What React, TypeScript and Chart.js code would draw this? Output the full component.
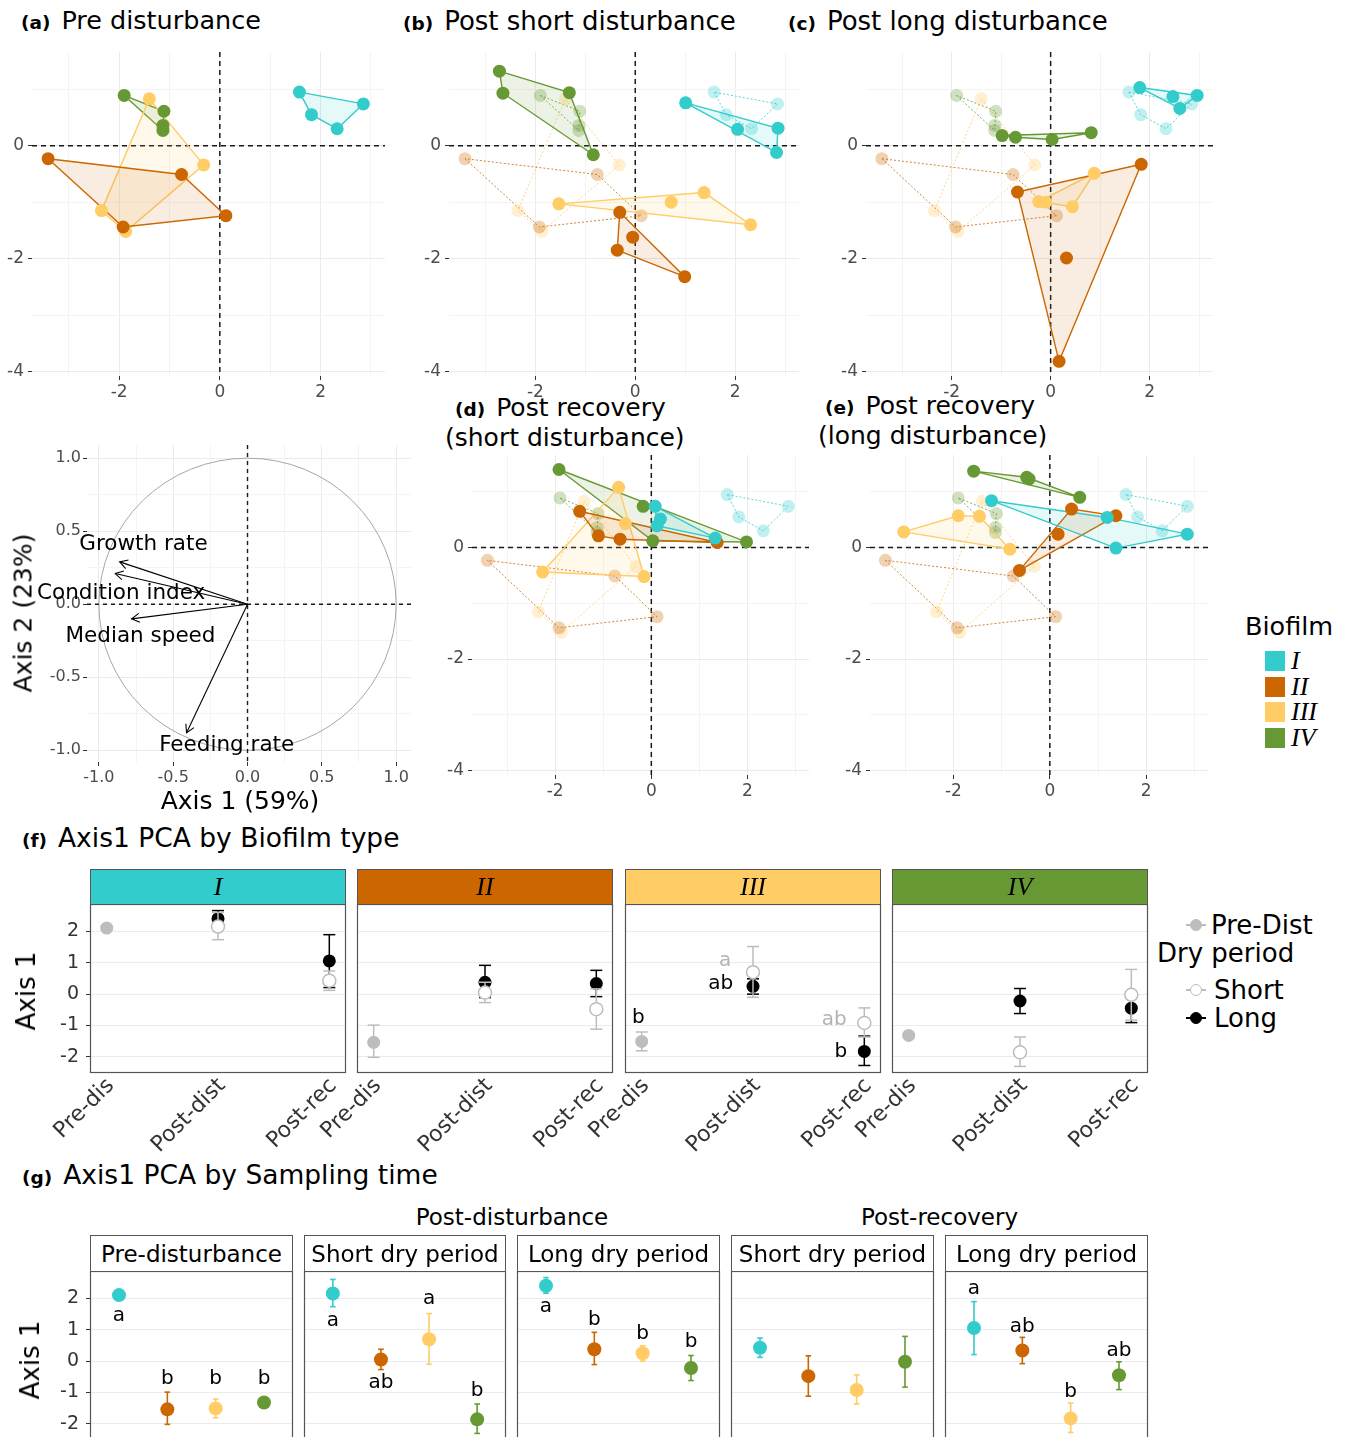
import React, { useEffect, useRef } from 'react';
import { Chart, registerables } from 'chart.js';

Chart.register(...registerables);

const FONT = "'DejaVu Sans', Verdana, sans-serif";
const SERIF = "'Liberation Serif', 'DejaVu Serif', serif";
Chart.defaults.font.family = FONT;

// ---------------- data ----------------
type Pt = [number, number];

const BIOFILMS = ['I', 'II', 'III', 'IV'];
const BIOFILM_COLORS = ['#33CCCC', '#CC6600', '#FFCC66', '#669933'];

// PCA scores (Axis 1, Axis 2) — (a) pre disturbance
const PRE_I: Pt[] = [[1.58, 0.95], [2.85, 0.74], [2.33, 0.30], [1.82, 0.55]];
const PRE_II: Pt[] = [[-3.41, -0.23], [-0.76, -0.51], [0.12, -1.24], [-1.92, -1.44]];
const PRE_III: Pt[] = [[-1.40, 0.83], [-0.32, -0.34], [-2.35, -1.15], [-1.87, -1.52]];
const PRE_IV: Pt[] = [[-1.90, 0.89], [-1.11, 0.61], [-1.13, 0.36], [-1.13, 0.27]];
// (b) post short disturbance
const PSD_I: Pt[] = [[1.01, 0.76], [2.05, 0.29], [2.86, 0.31], [2.83, -0.12]];
const PSD_II: Pt[] = [[-0.31, -1.18], [-0.05, -1.62], [-0.36, -1.85], [0.99, -2.32]];
const PSD_III: Pt[] = [[-1.53, -1.03], [0.72, -1.00], [1.38, -0.83], [2.31, -1.40]];
const PSD_IV: Pt[] = [[-2.72, 1.32], [-2.65, 0.93], [-1.32, 0.94], [-0.84, -0.16]];
// (c) post long disturbance
const PLD_I: Pt[] = [[1.80, 1.03], [2.47, 0.87], [2.96, 0.89], [2.61, 0.66]];
const PLD_II: Pt[] = [[-0.67, -0.82], [1.83, -0.33], [0.32, -1.99], [0.17, -3.82]];
const PLD_III: Pt[] = [[0.88, -0.49], [-0.24, -0.99], [-0.10, -1.00], [0.44, -1.08]];
const PLD_IV: Pt[] = [[-0.98, 0.18], [-0.71, 0.15], [0.03, 0.11], [0.82, 0.23]];
// (d) post recovery (short disturbance)
const PRS_I: Pt[] = [[0.08, 0.74], [0.19, 0.51], [0.12, 0.39], [1.33, 0.17]];
const PRS_II: Pt[] = [[-1.49, 0.65], [-1.10, 0.21], [-0.65, 0.15], [1.37, 0.09]];
const PRS_III: Pt[] = [[-0.68, 1.08], [-0.54, 0.43], [-2.26, -0.44], [-0.15, -0.52]];
const PRS_IV: Pt[] = [[-1.92, 1.40], [-0.17, 0.74], [0.03, 0.12], [1.98, 0.10]];
// (e) post recovery (long disturbance)
const PRL_I: Pt[] = [[-1.21, 0.84], [1.19, 0.54], [2.85, 0.24], [1.37, -0.01]];
const PRL_II: Pt[] = [[0.45, 0.69], [1.37, 0.57], [0.17, 0.24], [-0.63, -0.41]];
const PRL_III: Pt[] = [[-3.03, 0.28], [-1.90, 0.57], [-1.46, 0.56], [-0.83, -0.03]];
const PRL_IV: Pt[] = [[-1.58, 1.37], [-0.48, 1.26], [-0.43, 1.23], [0.62, 0.90]];

const SCATTER_X_RANGE = [-3.73, 3.28];
const SCATTER_Y_RANGE = [-4.08, 1.66];
const SCATTER_X_TICKS = [-3, -2, -1, 0, 1, 2, 3];
const SCATTER_Y_TICKS = [-4, -3, -2, -1, 0, 1];
const SCATTER_LABELED = [-4, -2, 0, 2];

// correlation circle
const LOADING_NAMES = ['Growth rate', 'Condition index', 'Median speed', 'Feeding rate'];
const LOADING_X = [-0.86, -0.89, -0.78, -0.41];
const LOADING_Y = [0.29, 0.21, -0.10, -0.88];
const LOADING_LABEL_X = [-0.70, -0.85, -0.72, -0.14];
const LOADING_LABEL_Y = [0.41, 0.075, -0.22, -0.965];
const CIRCLE_X_RANGE = [-1.08, 1.1];
const CIRCLE_Y_RANGE = [-1.08, 1.09];
const CIRCLE_TICKS = [-1, -0.75, -0.5, -0.25, 0, 0.25, 0.5, 0.75, 1];
const CIRCLE_LABELED = [-1, -0.5, 0, 0.5, 1];

// Axis 1 mean ± error per biofilm (I, II, III, IV)
const PRE_MEAN = [2.11, -1.54, -1.51, -1.32];
const PRE_LO = [2.04, -2.02, -1.81, -1.37];
const PRE_HI = [2.18, -0.99, -1.21, -1.27];
const PD_SHORT_MEAN = [2.16, 0.05, 0.70, -1.86];
const PD_SHORT_LO = [1.74, -0.27, -0.10, -2.31];
const PD_SHORT_HI = [2.61, 0.38, 1.52, -1.37];
const PD_LONG_MEAN = [2.41, 0.38, 0.25, -0.22];
const PD_LONG_LO = [2.17, -0.11, 0.00, -0.62];
const PD_LONG_HI = [2.67, 0.92, 0.49, 0.18];
const PR_SHORT_MEAN = [0.43, -0.48, -0.92, -0.02];
const PR_SHORT_LO = [0.12, -1.12, -1.37, -0.83];
const PR_SHORT_HI = [0.74, 0.17, -0.44, 0.79];
const PR_LONG_MEAN = [1.06, 0.34, -1.83, -0.45];
const PR_LONG_LO = [0.21, -0.08, -2.28, -0.91];
const PR_LONG_HI = [1.90, 0.76, -1.34, -0.02];

const PCA1_RANGE = [-2.52, 2.88];
const PCA1_TICKS = [-2, -1, 0, 1, 2];

// (f)
const F_TIMES = ['Pre-dis', 'Post-dist', 'Post-rec'];
const F_X_RANGE = [0.85, 3.15];
const F_LETTERS = ['b', 'a', 'ab', 'ab', 'b'];
const F_LETTER_X = [0.97, 1.75, 1.71, 2.73, 2.79];
const F_LETTER_Y = [-0.76, 1.08, 0.33, -0.82, -1.84];
const F_LETTER_GROUP = ['pre', 'short', 'long', 'short', 'long'];
const F_LETTER_FACET = 2;

// (g)
const G_STRIPS = ['Pre-disturbance', 'Short dry period', 'Long dry period', 'Short dry period', 'Long dry period'];
const G_X_RANGE = [0.4, 4.6];
const PRE_LETTERS = ['a', 'b', 'b', 'b'];
const PRE_LETTER_Y = [1.44, -0.56, -0.56, -0.56];
const PD_SHORT_LETTERS = ['a', 'ab', 'a', 'b'];
const PD_SHORT_LETTER_Y = [1.30, -0.70, 1.98, -0.94];
const PD_LONG_LETTERS = ['a', 'b', 'b', 'b'];
const PD_LONG_LETTER_Y = [1.73, 1.33, 0.88, 0.61];
const PR_SHORT_LETTERS = ['', '', '', ''];
const PR_SHORT_LETTER_Y = [0, 0, 0, 0];
const PR_LONG_LETTERS = ['a', 'ab', 'b', 'ab'];
const PR_LONG_LETTER_Y = [2.30, 1.09, -0.99, 0.32];

// ---------------- layout ----------------
type Rect = { l: number; t: number; r: number; b: number };
type Margins = { l: number; t: number; r: number; b: number };

const PRE_GROUPS = [PRE_I, PRE_II, PRE_III, PRE_IV];
const SCATTER_PANELS = [
  { groups: PRE_GROUPS, ghost: false, rect: { l: 32, t: 52, r: 385, b: 376 } },
  { groups: [PSD_I, PSD_II, PSD_III, PSD_IV], ghost: true, rect: { l: 449, t: 52, r: 799, b: 376 } },
  { groups: [PLD_I, PLD_II, PLD_III, PLD_IV], ghost: true, rect: { l: 866, t: 52, r: 1213, b: 376 } },
  { groups: [PRS_I, PRS_II, PRS_III, PRS_IV], ghost: true, rect: { l: 472, t: 455, r: 809, b: 775 } },
  { groups: [PRL_I, PRL_II, PRL_III, PRL_IV], ghost: true, rect: { l: 870, t: 455, r: 1208, b: 775 } },
];
const CIRCLE_RECT: Rect = { l: 87, t: 445, r: 411, b: 762 };
const F_FACETS: Rect[] = [
  { l: 90, t: 904, r: 346, b: 1073 },
  { l: 357, t: 904, r: 613, b: 1073 },
  { l: 625, t: 904, r: 881, b: 1073 },
  { l: 892, t: 904, r: 1148, b: 1073 },
];
const G_FACETS: Rect[] = [
  { l: 90, t: 1271, r: 293, b: 1440 },
  { l: 304, t: 1271, r: 506, b: 1440 },
  { l: 517, t: 1271, r: 720, b: 1440 },
  { l: 731, t: 1271, r: 934, b: 1440 },
  { l: 945, t: 1271, r: 1148, b: 1440 },
];

// ---------------- helpers ----------------
function rgba(hex: string, a: number) {
  const n = parseInt(hex.slice(1), 16);
  return `rgba(${(n >> 16) & 255},${(n >> 8) & 255},${n & 255},${a})`;
}

function convexHull(points: Pt[]): Pt[] {
  const p = points.slice().sort((a, b) => a[0] - b[0] || a[1] - b[1]);
  if (p.length < 3) return p;
  const cross = (o: Pt, a: Pt, b: Pt) => (a[0] - o[0]) * (b[1] - o[1]) - (a[1] - o[1]) * (b[0] - o[0]);
  const lower: Pt[] = [];
  for (const q of p) {
    while (lower.length >= 2 && cross(lower[lower.length - 2], lower[lower.length - 1], q) <= 0) lower.pop();
    lower.push(q);
  }
  const upper: Pt[] = [];
  for (let i = p.length - 1; i >= 0; i--) {
    const q = p[i];
    while (upper.length >= 2 && cross(upper[upper.length - 2], upper[upper.length - 1], q) <= 0) upper.pop();
    upper.push(q);
  }
  upper.pop();
  lower.pop();
  return lower.concat(upper);
}

interface AxisOpt {
  min: number; max: number; ticks: number[]; size: number;
  label?: (v: number) => string;
  gridColor?: (v: number) => string;
  tickColor?: (v: number) => string;
  fontSize?: number; color?: string; rotation?: number; padding?: number; tickLength?: number; labelOffset?: number;
}

function axis(o: AxisOpt, horizontal: boolean) {
  return {
    type: 'linear',
    min: o.min,
    max: o.max,
    display: true,
    afterBuildTicks: (s: any) => { s.ticks = o.ticks.map((v) => ({ value: v })); },
    afterFit: (s: any) => {
      if (horizontal) s.height = o.size; else s.width = o.size;
      s.paddingLeft = 0; s.paddingRight = 0; s.paddingTop = 0; s.paddingBottom = 0;
    },
    border: { display: false },
    grid: {
      drawOnChartArea: true,
      color: (c: any) => (o.gridColor && c.tick ? o.gridColor(c.tick.value) : 'transparent'),
      lineWidth: 1,
      drawTicks: !!o.tickColor,
      tickLength: o.tickLength ?? 4,
      tickWidth: 1,
      tickColor: (c: any) => (o.tickColor && c.tick ? o.tickColor(c.tick.value) : 'transparent'),
    },
    ticks: {
      display: !!o.label,
      autoSkip: false,
      maxRotation: o.rotation ?? 0,
      minRotation: o.rotation ?? 0,
      padding: o.padding ?? 3,
      labelOffset: o.labelOffset ?? 0,
      color: o.color ?? '#4D4D4D',
      font: { family: FONT, size: o.fontSize ?? 16 },
      callback: (v: any) => (o.label ? o.label(Number(v)) : ''),
    },
  };
}

function makeConfig(m: Margins, xa: AxisOpt, ya: AxisOpt, datasets: any[], plugins: any[] = []) {
  return {
    type: 'scatter',
    data: { datasets },
    options: {
      responsive: false,
      animation: false,
      events: [],
      devicePixelRatio: 1,
      layout: { autoPadding: false, padding: { left: m.l - ya.size, top: m.t, right: m.r, bottom: m.b - xa.size } },
      plugins: { legend: { display: false }, tooltip: { enabled: false }, title: { display: false } },
      scales: { x: axis(xa, true), y: axis(ya, false) },
      elements: { line: { tension: 0 } },
    },
    plugins,
  };
}

function ChartBox({ rect, m, build }: { rect: Rect; m: Margins; build: () => any }) {
  const ref = useRef<HTMLCanvasElement>(null);
  const w = Math.round(rect.r - rect.l + m.l + m.r);
  const h = Math.round(rect.b - rect.t + m.t + m.b);
  useEffect(() => {
    const chart = new Chart(ref.current as HTMLCanvasElement, build());
    return () => chart.destroy();
  }, []);
  return (
    <canvas
      ref={ref}
      width={w}
      height={h}
      style={{ position: 'absolute', left: rect.l - m.l, top: rect.t - m.t, width: w, height: h }}
    />
  );
}

const zeroLinesPlugin = (lw: number, dash: number[]) => ({
  id: 'zeroLines',
  beforeDatasetsDraw(chart: any) {
    const { ctx, chartArea: a, scales } = chart;
    const px = scales.x.getPixelForValue(0);
    const py = scales.y.getPixelForValue(0);
    ctx.save();
    ctx.strokeStyle = '#1a1a1a';
    ctx.lineWidth = lw;
    ctx.setLineDash(dash);
    ctx.beginPath();
    ctx.moveTo(a.left, py); ctx.lineTo(a.right, py);
    ctx.moveTo(px, a.top); ctx.lineTo(px, a.bottom);
    ctx.stroke();
    ctx.restore();
  },
});

const panelBorderPlugin = {
  id: 'panelBorder',
  afterDraw(chart: any) {
    const { ctx, chartArea: a } = chart;
    ctx.save();
    ctx.strokeStyle = '#555';
    ctx.lineWidth = 1.2;
    ctx.strokeRect(a.left + 0.5, a.top + 0.5, a.right - a.left - 1, a.bottom - a.top - 1);
    ctx.restore();
  },
};

function lettersPlugin(items: { x: number; y: number; text: string; color: string }[], size: number) {
  return {
    id: 'letters',
    afterDatasetsDraw(chart: any) {
      const { ctx, scales } = chart;
      ctx.save();
      ctx.font = `${size}px ${FONT}`;
      ctx.textAlign = 'center';
      ctx.textBaseline = 'middle';
      items.forEach((it) => {
        if (!it.text) return;
        ctx.fillStyle = it.color;
        ctx.fillText(it.text, scales.x.getPixelForValue(it.x), scales.y.getPixelForValue(it.y));
      });
      ctx.restore();
    },
  };
}

// ---------------- chart builders ----------------
const MAJOR_GRID = '#EBEBEB';
const MINOR_GRID = '#F4F4F4';

function hullDataset(g: Pt[], color: string, ghost: boolean, order: number) {
  const h = convexHull(g);
  const closed = [...h, h[0]];
  return {
    data: closed.map(([x, y]) => ({ x, y })),
    showLine: true,
    pointRadius: 0,
    borderColor: ghost ? rgba(color, 0.8) : color,
    borderWidth: ghost ? 1 : 1.4,
    borderDash: ghost ? [2, 2] : [],
    fill: ghost ? false : 'shape',
    backgroundColor: rgba(color, 0.12),
    order,
  };
}

function scatterPanel(groups: Pt[][], ghost: boolean) {
  const ds: any[] = [];
  groups.forEach((g, i) => ds.push({
    data: g.map(([x, y]) => ({ x, y })),
    backgroundColor: BIOFILM_COLORS[i],
    borderColor: BIOFILM_COLORS[i],
    pointRadius: 6.5,
    pointBorderWidth: 0,
    order: 1,
  }));
  groups.forEach((g, i) => ds.push(hullDataset(g, BIOFILM_COLORS[i], false, 2)));
  if (ghost) {
    PRE_GROUPS.forEach((g, i) => ds.push({
      data: g.map(([x, y]) => ({ x, y })),
      backgroundColor: rgba(BIOFILM_COLORS[i], 0.3),
      borderColor: 'transparent',
      pointRadius: 6.5,
      pointBorderWidth: 0,
      order: 3,
    }));
    PRE_GROUPS.forEach((g, i) => ds.push(hullDataset(g, BIOFILM_COLORS[i], true, 4)));
  }
  const m: Margins = { l: 34, t: 4, r: 6, b: 28 };
  const grid = (v: number) => (SCATTER_LABELED.includes(v) ? MAJOR_GRID : MINOR_GRID);
  const tick = (v: number) => (SCATTER_LABELED.includes(v) ? '#333' : 'transparent');
  const xa: AxisOpt = {
    min: SCATTER_X_RANGE[0], max: SCATTER_X_RANGE[1], ticks: SCATTER_X_TICKS, size: m.b,
    label: (v) => (SCATTER_LABELED.includes(v) ? String(v) : ''), gridColor: grid, tickColor: tick, padding: 2, fontSize: 17,
  };
  const ya: AxisOpt = {
    min: SCATTER_Y_RANGE[0], max: SCATTER_Y_RANGE[1], ticks: SCATTER_Y_TICKS, size: m.l,
    label: (v) => (SCATTER_LABELED.includes(v) ? String(v) : ''), gridColor: grid, tickColor: tick, padding: 4, fontSize: 17,
  };
  return { m, build: () => makeConfig(m, xa, ya, ds, [zeroLinesPlugin(1.5, [5, 4])]) };
}

function circlePanel() {
  const m: Margins = { l: 52, t: 4, r: 6, b: 30 };
  const ds = LOADING_X.map((lx, i) => ({
    data: [{ x: 0, y: 0 }, { x: lx, y: LOADING_Y[i] }],
    showLine: true,
    pointRadius: 0,
    borderColor: '#000',
    borderWidth: 1.1,
  }));
  const grid = (v: number) => (CIRCLE_LABELED.includes(v) ? MAJOR_GRID : MINOR_GRID);
  const tick = (v: number) => (CIRCLE_LABELED.includes(v) ? '#333' : 'transparent');
  const lab = (v: number) => (CIRCLE_LABELED.includes(v) ? v.toFixed(1) : '');
  const xa: AxisOpt = { min: CIRCLE_X_RANGE[0], max: CIRCLE_X_RANGE[1], ticks: CIRCLE_TICKS, size: m.b, label: lab, gridColor: grid, tickColor: tick, padding: 2 };
  const ya: AxisOpt = { min: CIRCLE_Y_RANGE[0], max: CIRCLE_Y_RANGE[1], ticks: CIRCLE_TICKS, size: m.l, label: lab, gridColor: grid, tickColor: tick, padding: 2 };
  const circle = {
    id: 'circle',
    beforeDatasetsDraw(chart: any) {
      const { ctx, scales } = chart;
      const cx = scales.x.getPixelForValue(0);
      const cy = scales.y.getPixelForValue(0);
      const rx = scales.x.getPixelForValue(1) - cx;
      const ry = cy - scales.y.getPixelForValue(1);
      ctx.save();
      ctx.strokeStyle = '#A6A6A6';
      ctx.lineWidth = 1;
      ctx.beginPath();
      ctx.ellipse(cx, cy, rx, ry, 0, 0, Math.PI * 2);
      ctx.stroke();
      ctx.restore();
    },
  };
  const heads = {
    id: 'heads',
    afterDatasetsDraw(chart: any) {
      const { ctx, scales } = chart;
      const ox = scales.x.getPixelForValue(0);
      const oy = scales.y.getPixelForValue(0);
      ctx.save();
      ctx.strokeStyle = '#000';
      ctx.lineWidth = 1.1;
      LOADING_X.forEach((lx, i) => {
        const tx = scales.x.getPixelForValue(lx);
        const ty = scales.y.getPixelForValue(LOADING_Y[i]);
        const ang = Math.atan2(ty - oy, tx - ox);
        const len = 9;
        ctx.beginPath();
        ctx.moveTo(tx - len * Math.cos(ang - Math.PI / 6), ty - len * Math.sin(ang - Math.PI / 6));
        ctx.lineTo(tx, ty);
        ctx.lineTo(tx - len * Math.cos(ang + Math.PI / 6), ty - len * Math.sin(ang + Math.PI / 6));
        ctx.stroke();
      });
      ctx.fillStyle = '#000';
      ctx.font = `21.5px ${FONT}`;
      ctx.textAlign = 'center';
      ctx.textBaseline = 'middle';
      LOADING_NAMES.forEach((name, i) => {
        ctx.fillText(name, scales.x.getPixelForValue(LOADING_LABEL_X[i]), scales.y.getPixelForValue(LOADING_LABEL_Y[i]));
      });
      ctx.restore();
    },
  };
  return { m, build: () => makeConfig(m, xa, ya, ds, [circle, zeroLinesPlugin(1.4, [4, 4]), heads]) };
}

function errBar(x: number, lo: number, hi: number, color: string, capR: number, lw: number, order: number) {
  return {
    data: [{ x, y: lo }, { x, y: hi }],
    showLine: true,
    borderColor: color,
    borderWidth: lw,
    pointStyle: 'line',
    pointRadius: capR,
    pointBorderColor: color,
    pointBackgroundColor: color,
    pointBorderWidth: lw,
    order,
  };
}

const PRE_GRAY = '#BDBDBD';
const SHORT_GRAY = '#BDBDBD';

function fFacet(b: number) {
  const m: Margins = { l: 66, t: 2, r: 4, b: 95 };
  const ds: any[] = [
    {
      data: [{ x: 2, y: PD_SHORT_MEAN[b] }, { x: 3, y: PR_SHORT_MEAN[b] }],
      backgroundColor: '#FFFFFF', borderColor: SHORT_GRAY, pointRadius: 6.5, pointBorderWidth: 1.5, order: 1,
    },
    errBar(2, PD_SHORT_LO[b], PD_SHORT_HI[b], SHORT_GRAY, 6, 1.5, 2),
    errBar(3, PR_SHORT_LO[b], PR_SHORT_HI[b], SHORT_GRAY, 6, 1.5, 2),
    {
      data: [{ x: 2, y: PD_LONG_MEAN[b] }, { x: 3, y: PR_LONG_MEAN[b] }],
      backgroundColor: '#000', borderColor: '#000', pointRadius: 6.5, pointBorderWidth: 0, order: 3,
    },
    errBar(2, PD_LONG_LO[b], PD_LONG_HI[b], '#000', 6, 1.5, 4),
    errBar(3, PR_LONG_LO[b], PR_LONG_HI[b], '#000', 6, 1.5, 4),
    { data: [{ x: 1, y: PRE_MEAN[b] }], backgroundColor: PRE_GRAY, borderColor: PRE_GRAY, pointRadius: 6.5, pointBorderWidth: 0, order: 5 },
    errBar(1, PRE_LO[b], PRE_HI[b], PRE_GRAY, 6, 1.5, 6),
  ];
  const plugins: any[] = [panelBorderPlugin];
  if (b === F_LETTER_FACET) {
    plugins.push(lettersPlugin(F_LETTERS.map((t, i) => ({
      x: F_LETTER_X[i], y: F_LETTER_Y[i], text: t, color: F_LETTER_GROUP[i] === 'short' ? '#B3B3B3' : '#000',
    })), 20));
  }
  const xa: AxisOpt = {
    min: F_X_RANGE[0], max: F_X_RANGE[1], ticks: [1, 2, 3], size: m.b,
    label: (v) => F_TIMES[v - 1], rotation: 45, fontSize: 22, color: '#333', padding: 0, labelOffset: 4,
  };
  const first = b === 0;
  const ya: AxisOpt = {
    min: PCA1_RANGE[0], max: PCA1_RANGE[1], ticks: PCA1_TICKS, size: first ? m.l : 0,
    label: first ? (v) => String(v) : undefined,
    gridColor: () => MAJOR_GRID,
    tickColor: first ? () => '#333' : undefined,
    fontSize: 19, color: '#333', padding: 7,
  };
  return { m, build: () => makeConfig(m, xa, ya, ds, plugins) };
}

const G_MEANS = [PRE_MEAN, PD_SHORT_MEAN, PD_LONG_MEAN, PR_SHORT_MEAN, PR_LONG_MEAN];
const G_LOS = [PRE_LO, PD_SHORT_LO, PD_LONG_LO, PR_SHORT_LO, PR_LONG_LO];
const G_HIS = [PRE_HI, PD_SHORT_HI, PD_LONG_HI, PR_SHORT_HI, PR_LONG_HI];
const G_LETTERS = [PRE_LETTERS, PD_SHORT_LETTERS, PD_LONG_LETTERS, PR_SHORT_LETTERS, PR_LONG_LETTERS];
const G_LETTER_Y = [PRE_LETTER_Y, PD_SHORT_LETTER_Y, PD_LONG_LETTER_Y, PR_SHORT_LETTER_Y, PR_LONG_LETTER_Y];

function gFacet(t: number) {
  const m: Margins = { l: 62, t: 2, r: 4, b: 0 };
  const ds: any[] = [];
  BIOFILMS.forEach((_, i) => {
    ds.push({
      data: [{ x: i + 1, y: G_MEANS[t][i] }],
      backgroundColor: BIOFILM_COLORS[i], borderColor: BIOFILM_COLORS[i], pointRadius: 7, pointBorderWidth: 0, order: 1,
    });
    ds.push(errBar(i + 1, G_LOS[t][i], G_HIS[t][i], BIOFILM_COLORS[i], 2.8, 1.6, 2));
  });
  const letters = G_LETTERS[t].map((txt, i) => ({ x: i + 1, y: G_LETTER_Y[t][i], text: txt, color: '#000' }));
  const xa: AxisOpt = { min: G_X_RANGE[0], max: G_X_RANGE[1], ticks: [1, 2, 3, 4], size: 0 };
  const first = t === 0;
  const ya: AxisOpt = {
    min: PCA1_RANGE[0], max: PCA1_RANGE[1], ticks: PCA1_TICKS, size: first ? m.l : 0,
    label: first ? (v) => String(v) : undefined,
    gridColor: () => MAJOR_GRID,
    tickColor: first ? () => '#333' : undefined,
    fontSize: 19, color: '#333', padding: 7,
  };
  return { m, build: () => makeConfig(m, xa, ya, ds, [panelBorderPlugin, lettersPlugin(letters, 20)]) };
}

// ---------------- HTML bits ----------------
function Txt({ x, cy, size, children, style }: { x: number; cy: number; size: number; children: any; style?: any }) {
  return (
    <div style={{ position: 'absolute', left: x, top: cy, transform: 'translateY(-50%)', fontSize: size, lineHeight: 1, whiteSpace: 'nowrap', color: '#000', ...style }}>
      {children}
    </div>
  );
}

function PanelTitle({ x, cy, tag, text, size }: { x: number; cy: number; tag: string; text: string; size: number }) {
  return (
    <Txt x={x} cy={cy} size={size}>
      <b style={{ fontSize: 18.5 }}>{tag}</b>
      <span style={{ marginLeft: 11 }}>{text}</span>
    </Txt>
  );
}

function VTitle({ cx, cy, size, text }: { cx: number; cy: number; size: number; text: string }) {
  return (
    <div style={{ position: 'absolute', left: cx, top: cy, transform: 'translate(-50%, -50%) rotate(-90deg)', fontSize: size, lineHeight: 1, whiteSpace: 'nowrap', color: '#000' }}>
      {text}
    </div>
  );
}

function Strip({ r, top, h, bg, children, style }: { r: Rect; top: number; h: number; bg: string; children: any; style?: any }) {
  return (
    <div style={{ position: 'absolute', left: r.l, top, width: r.r - r.l, height: h, boxSizing: 'border-box', border: '1.2px solid #555', background: bg, display: 'flex', alignItems: 'center', justifyContent: 'center', whiteSpace: 'nowrap', color: '#000', ...style }}>
      {children}
    </div>
  );
}

function LegendKey({ x, cy, fill, stroke }: { x: number; cy: number; fill: string; stroke: string }) {
  return (
    <>
      <div style={{ position: 'absolute', left: x - 10, top: cy - 0.75, width: 20, height: 1.5, background: stroke }} />
      <div style={{ position: 'absolute', left: x - 6, top: cy - 6, width: 12, height: 12, boxSizing: 'border-box', borderRadius: '50%', background: fill, border: `1.5px solid ${stroke}` }} />
    </>
  );
}

export default function App() {
  const scatter = SCATTER_PANELS.map((p) => ({ ...scatterPanel(p.groups, p.ghost), rect: p.rect }));
  const circle = circlePanel();
  const fCharts = F_FACETS.map((r, i) => ({ ...fFacet(i), rect: r }));
  const gCharts = G_FACETS.map((r, i) => ({ ...gFacet(i), rect: r }));

  return (
    <div style={{ position: 'absolute', left: 0, top: 0, width: 1349, height: 1437, overflow: 'hidden', background: '#fff', fontFamily: FONT }}>
      {/* titles */}
      <PanelTitle x={21} cy={21} size={25.5} tag="(a)" text="Pre disturbance" />
      <PanelTitle x={403} cy={21} size={26} tag="(b)" text="Post short disturbance" />
      <PanelTitle x={788} cy={21} size={26} tag="(c)" text="Post long disturbance" />
      <PanelTitle x={455} cy={407} size={25} tag="(d)" text="Post recovery" />
      <Txt x={445} cy={437} size={25}>(short disturbance)</Txt>
      <PanelTitle x={825} cy={405} size={25} tag="(e)" text="Post recovery" />
      <Txt x={818} cy={435} size={25}>(long disturbance)</Txt>
      <PanelTitle x={22} cy={838} size={26.5} tag="(f)" text="Axis1 PCA by Biofilm type" />
      <PanelTitle x={22} cy={1175} size={26.5} tag="(g)" text="Axis1 PCA by Sampling time" />

      {scatter.map((c, i) => <ChartBox key={'s' + i} rect={c.rect} m={c.m} build={c.build} />)}
      <ChartBox rect={CIRCLE_RECT} m={circle.m} build={circle.build} />
      <Txt x={240} cy={800} size={25} style={{ transform: 'translate(-50%, -50%)' }}>Axis 1 (59%)</Txt>
      <VTitle cx={23} cy={613} size={25} text="Axis 2 (23%)" />

      {/* biofilm legend */}
      <Txt x={1245} cy={627} size={25.5}>Biofilm</Txt>
      {BIOFILMS.map((b, i) => (
        <React.Fragment key={b}>
          <div style={{ position: 'absolute', left: 1265, top: 651 + i * 25.5, width: 20, height: 20, background: BIOFILM_COLORS[i] }} />
          <Txt x={1291} cy={661 + i * 25.5} size={26} style={{ fontFamily: SERIF, fontStyle: 'italic' }}>{b}</Txt>
        </React.Fragment>
      ))}

      {/* (f) */}
      {fCharts.map((c, i) => <ChartBox key={'f' + i} rect={c.rect} m={c.m} build={c.build} />)}
      {F_FACETS.map((r, i) => (
        <Strip key={'fs' + i} r={r} top={869} h={36} bg={BIOFILM_COLORS[i]} style={{ fontFamily: SERIF, fontStyle: 'italic', fontSize: 26 }}>
          {BIOFILMS[i]}
        </Strip>
      ))}
      <VTitle cx={26} cy={991} size={26} text="Axis 1" />
      <LegendKey x={1196} cy={925} fill={PRE_GRAY} stroke={PRE_GRAY} />
      <Txt x={1211} cy={925} size={26}>Pre-Dist</Txt>
      <Txt x={1157} cy={953} size={26}>Dry period</Txt>
      <LegendKey x={1196} cy={990} fill="#FFFFFF" stroke={SHORT_GRAY} />
      <Txt x={1214} cy={990} size={26}>Short</Txt>
      <LegendKey x={1196} cy={1018} fill="#000" stroke="#000" />
      <Txt x={1214} cy={1018} size={26}>Long</Txt>

      {/* (g) */}
      {gCharts.map((c, i) => <ChartBox key={'g' + i} rect={c.rect} m={c.m} build={c.build} />)}
      {G_FACETS.map((r, i) => (
        <Strip key={'gs' + i} r={r} top={1235} h={37} bg="#FFFFFF" style={{ fontSize: 23 }}>
          {G_STRIPS[i]}
        </Strip>
      ))}
      <Txt x={(G_FACETS[1].l + G_FACETS[2].r) / 2} cy={1217} size={23} style={{ transform: 'translate(-50%, -50%)' }}>Post-disturbance</Txt>
      <Txt x={(G_FACETS[3].l + G_FACETS[4].r) / 2} cy={1217} size={23} style={{ transform: 'translate(-50%, -50%)' }}>Post-recovery</Txt>
      <VTitle cx={30} cy={1360} size={26} text="Axis 1" />
    </div>
  );
}
